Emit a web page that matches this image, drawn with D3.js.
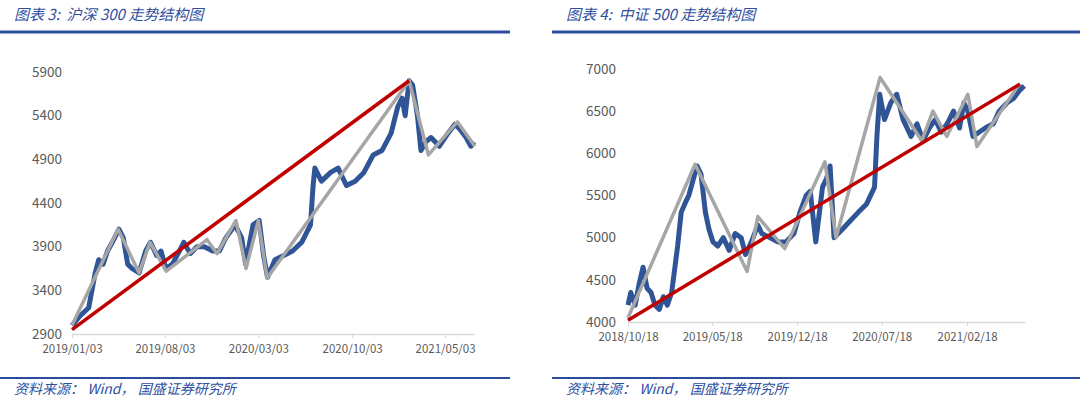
<!DOCTYPE html><html><head><meta charset="utf-8"><script src="https://cdn.jsdelivr.net/npm/d3@7"></script>
<style>body{margin:0;background:#fff}text{font-family:"Noto Sans CJK SC","Liberation Sans",sans-serif}</style></head><body><svg id="c" width="1080" height="402"></svg><script>
const hsDates=["2019-01-03","2019-01-20","2019-02-10","2019-02-25","2019-03-05","2019-03-15","2019-03-25","2019-04-05","2019-04-20","2019-04-30","2019-05-10","2019-05-20","2019-06-05","2019-06-20","2019-07-01","2019-07-15","2019-07-25","2019-08-05","2019-08-20","2019-09-05","2019-09-15","2019-09-30","2019-10-15","2019-11-01","2019-11-20","2019-12-05","2019-12-20","2020-01-10","2020-01-25","2020-02-03","2020-02-20","2020-03-05","2020-03-15","2020-03-24","2020-04-10","2020-04-30","2020-05-20","2020-06-10","2020-06-30","2020-07-06","2020-07-10","2020-07-25","2020-08-15","2020-09-01","2020-09-20","2020-10-10","2020-10-30","2020-11-20","2020-12-10","2020-12-31","2021-01-15","2021-01-25","2021-02-01","2021-02-10","2021-02-18","2021-03-01","2021-03-09","2021-03-20","2021-04-01","2021-04-20","2021-05-10","2021-05-25","2021-06-05","2021-06-20","2021-07-01","2021-07-08"];
const hsValues=[3000,3100,3200,3600,3750,3700,3850,3950,4100,4000,3700,3650,3600,3850,3950,3800,3850,3650,3700,3850,3950,3820,3900,3900,3850,3850,4000,4150,4000,3700,4150,4200,3800,3550,3750,3800,3850,3950,4150,4600,4800,4650,4750,4800,4600,4650,4750,4950,5000,5200,5500,5600,5400,5800,5750,5400,5000,5100,5150,5050,5200,5300,5250,5150,5050,5100];
const hsZigDates=["2019-01-03","2019-04-18","2019-06-05","2019-06-30","2019-08-06","2019-11-07","2019-11-30","2020-01-12","2020-02-04","2020-03-03","2020-03-23","2021-02-10","2021-03-26","2021-05-31","2021-07-10"];
const hsZigValues=[3000,4100,3600,3950,3620,3980,3820,4200,3650,4200,3540,5800,4950,5330,5050];
const hsTrendDates=["2019-01-03","2021-02-10"],hsTrendValues=[2950,5800];
const hsYTicks=[2900,3400,3900,4400,4900,5400,5900];
const hsXTicks=["2019-01-03","2019-08-03","2020-03-03","2020-10-03","2021-05-03"];

const zzDates=["2018-10-18","2018-10-25","2018-11-05","2018-11-15","2018-11-25","2018-12-05","2018-12-15","2018-12-25","2019-01-05","2019-01-15","2019-01-25","2019-02-05","2019-02-20","2019-03-01","2019-03-10","2019-03-20","2019-04-01","2019-04-10","2019-04-20","2019-05-01","2019-05-10","2019-05-20","2019-06-01","2019-06-15","2019-06-30","2019-07-15","2019-07-30","2019-08-10","2019-08-25","2019-09-10","2019-09-20","2019-10-10","2019-10-30","2019-11-20","2019-12-10","2019-12-25","2020-01-10","2020-01-20","2020-02-03","2020-02-20","2020-03-01","2020-03-10","2020-03-20","2020-04-10","2020-04-30","2020-05-20","2020-06-10","2020-06-30","2020-07-06","2020-07-13","2020-07-25","2020-08-10","2020-08-25","2020-09-10","2020-09-30","2020-10-15","2020-10-30","2020-11-15","2020-11-30","2020-12-15","2020-12-30","2021-01-15","2021-01-30","2021-02-10","2021-02-20","2021-03-05","2021-03-20","2021-04-05","2021-04-25","2021-05-10","2021-05-30","2021-06-15","2021-07-01","2021-07-12"];
const zzValues=[4200,4350,4200,4450,4650,4400,4350,4200,4150,4300,4200,4350,4900,5300,5400,5500,5700,5850,5750,5300,5100,4950,4900,5000,4850,5050,5000,4800,4950,5150,5050,5000,4950,4950,5050,5300,5500,5550,4950,5600,5700,5850,5000,5100,5200,5300,5400,5600,6200,6700,6400,6600,6700,6400,6200,6350,6150,6300,6400,6250,6350,6500,6300,6600,6500,6200,6250,6300,6350,6500,6600,6650,6750,6800];
const zzZigDates=["2018-10-18","2019-04-05","2019-08-14","2019-09-10","2019-11-17","2020-02-26","2020-03-25","2020-07-14","2020-10-27","2020-11-24","2020-12-29","2021-02-20","2021-03-15","2021-07-01"];
const zzZigValues=[4050,5870,4600,5250,4870,5900,5000,6900,6150,6500,6200,6700,6080,6830];
const zzTrendDates=["2018-10-18","2021-07-01"],zzTrendValues=[4020,6820];
const zzYTicks=[4000,4500,5000,5500,6000,6500,7000];
const zzXTicks=["2018-10-18","2019-05-18","2019-12-18","2020-07-18","2021-02-18"];

const P=d3.timeParse("%Y-%m-%d"),F=d3.timeFormat("%Y/%m/%d");
const svg=d3.select("#c");
function panel(o){
  const g=svg.append("g");
  g.append("text").attr("x",o.tx).attr("y",20).attr("font-size",15).attr("font-style","italic").attr("fill","#2f4f9f").attr("xml:space","preserve").text(o.title);
  g.append("line").attr("x1",o.r0).attr("x2",o.r1).attr("y1",32).attr("y2",32).attr("stroke","#2a4d9b").attr("stroke-width",3);
  g.append("line").attr("x1",o.r0).attr("x2",o.r1).attr("y1",378).attr("y2",378).attr("stroke","#2a4d9b").attr("stroke-width",2);
  g.append("text").attr("x",o.tx).attr("y",394).attr("font-size",14).attr("font-style","italic").attr("fill","#2f4f9f").text("资料来源： Wind， 国盛证券研究所");
  const x=d3.scaleTime().domain([P(o.xt[0]),P(o.xend)]).range([o.x0,o.x1]);
  const y=d3.scaleLinear().domain([o.yt[0],o.yt[o.yt.length-1]]).range([o.y0,o.y1]);
  const ax=g.append("g").attr("transform",`translate(0,${o.y0})`).call(d3.axisBottom(x).tickValues(o.xt.map(P)).tickFormat(F).tickSize(4).tickSizeOuter(0));
  ax.select(".domain").attr("stroke","#d9d9d9").attr("stroke-width",1.5);
  ax.selectAll(".tick line").attr("stroke","#d9d9d9");
  ax.selectAll("text").attr("fill","#595959").attr("font-size",11.5).attr("font-family","Liberation Sans, sans-serif").attr("dy","1.05em");
  const ay=g.append("g").attr("transform",`translate(${o.x0},0)`).call(d3.axisLeft(y).tickValues(o.yt).tickFormat(d3.format("d")).tickSize(0).tickPadding(o.pad));
  ay.select(".domain").remove();
  ay.selectAll("text").attr("fill","#595959").attr("font-size",13.5).attr("font-family","Liberation Sans, sans-serif");
  const ln=d3.line().x(d=>x(P(d[0]))).y(d=>y(d[1]));
  const z=(a,b)=>a.map((d,i)=>[d,b[i]]);
  g.append("path").attr("d",ln(z(o.d,o.v))).attr("fill","none").attr("stroke","#2f5597").attr("stroke-width",5).attr("stroke-linejoin","round");
  g.append("path").attr("d",ln(z(o.zd,o.zv))).attr("fill","none").attr("stroke","#a6a6a6").attr("stroke-width",3.5).attr("stroke-linejoin","round");
  g.append("path").attr("d",ln(z(o.td,o.tv))).attr("fill","none").attr("stroke","#c00000").attr("stroke-width",3.5);
}
panel({title:"图表 3:  沪深 300 走势结构图",tx:14,r0:0,r1:510,xt:hsXTicks,xend:"2021-07-08",x0:72,x1:474,yt:hsYTicks,y0:334,y1:72,pad:10,d:hsDates,v:hsValues,zd:hsZigDates,zv:hsZigValues,td:hsTrendDates,tv:hsTrendValues});
panel({title:"图表 4:  中证 500 走势结构图",tx:566,r0:552,r1:1080,xt:zzXTicks,xend:"2021-07-14",x0:628,x1:1025,yt:zzYTicks,y0:322,y1:69,pad:12,d:zzDates,v:zzValues,zd:zzZigDates,zv:zzZigValues,td:zzTrendDates,tv:zzTrendValues});
</script></body></html>
